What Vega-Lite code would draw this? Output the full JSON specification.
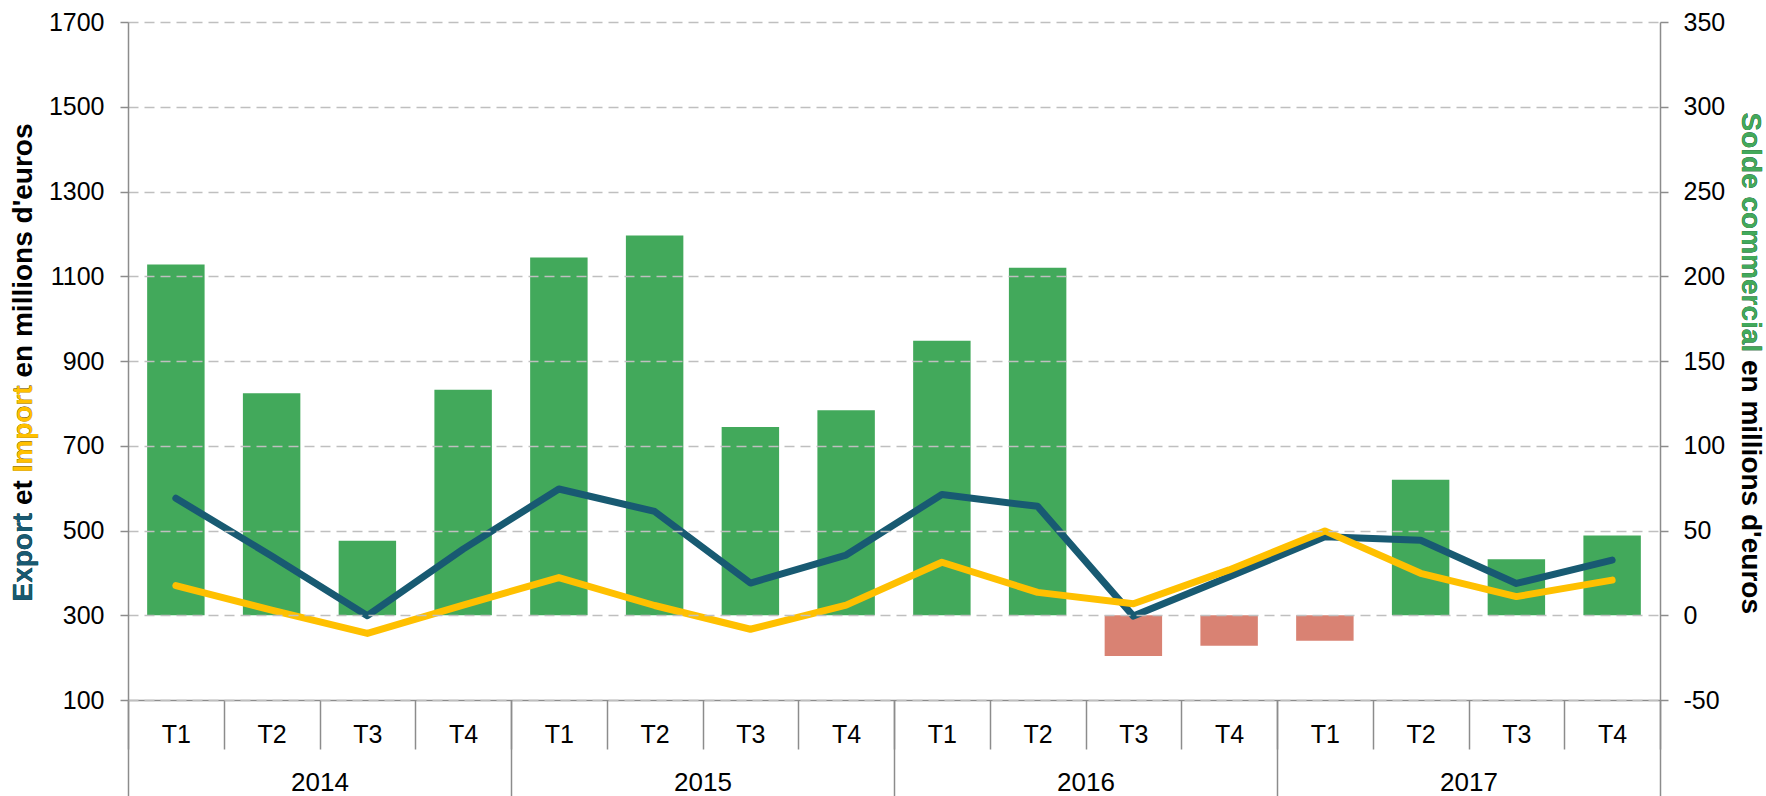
{
  "$schema": "https://vega.github.io/schema/vega-lite/v6.json",
  "width": 1532,
  "height": 678,
  "autosize": {"type": "none"},
  "padding": {"left": 128, "top": 22, "right": 106, "bottom": 96},
  "background": "white",
  "config": {
    "view": {"stroke": null},
    "font": "Liberation Sans",
    "axis": {"labelFont": "Liberation Sans", "titleFont": "Liberation Sans"}
  },
  "data": {
    "values": [
      {"cle": "2014-T1", "annee": "2014", "export": 576, "import": 370, "solde": 207},
      {"cle": "2014-T2", "annee": "2014", "export": 440, "import": 312, "solde": 131},
      {"cle": "2014-T3", "annee": "2014", "export": 299, "import": 257, "solde": 44},
      {"cle": "2014-T4", "annee": "2014", "export": 456, "import": 324, "solde": 133},
      {"cle": "2015-T1", "annee": "2015", "export": 598, "import": 389, "solde": 211},
      {"cle": "2015-T2", "annee": "2015", "export": 545, "import": 323, "solde": 224},
      {"cle": "2015-T3", "annee": "2015", "export": 376, "import": 267, "solde": 111},
      {"cle": "2015-T4", "annee": "2015", "export": 442, "import": 324, "solde": 121},
      {"cle": "2016-T1", "annee": "2016", "export": 585, "import": 425, "solde": 162},
      {"cle": "2016-T2", "annee": "2016", "export": 557, "import": 354, "solde": 205},
      {"cle": "2016-T3", "annee": "2016", "export": 298, "import": 327, "solde": -24},
      {"cle": "2016-T4", "annee": "2016", "export": 391, "import": 407, "solde": -18},
      {"cle": "2017-T1", "annee": "2017", "export": 485, "import": 499, "solde": -15},
      {"cle": "2017-T2", "annee": "2017", "export": 477, "import": 399, "solde": 80},
      {"cle": "2017-T3", "annee": "2017", "export": 375, "import": 344, "solde": 33},
      {"cle": "2017-T4", "annee": "2017", "export": 430, "import": 383, "solde": 47}
    ]
  },
  "resolve": {"scale": {"x": "independent", "y": "independent"}},
  "layer": [
    {
      "mark": {"type": "point", "opacity": 0},
      "encoding": {
        "x": {
          "field": "annee", "type": "nominal", "sort": null,
          "scale": {"type": "band", "domain": ["2014", "2015", "2016", "2017"], "paddingInner": 0, "paddingOuter": 0},
          "axis": {
            "orient": "bottom", "domain": false, "grid": false, "tickBand": "extent", "tickSize": 96,
            "tickColor": "#8C8C8C", "tickWidth": 1.5, "labelFontSize": 26, "labelColor": "#000000",
            "labelBaseline": "middle", "labelPadding": -14, "labelAngle": 0, "title": null
          }
        },
        "y": {
          "field": "export", "type": "quantitative",
          "scale": {"domain": [100, 1700], "nice": false, "zero": false},
          "axis": {
            "orient": "left", "labels": false, "ticks": false, "domain": false, "grid": false,
            "title": "Export", "titleColor": "#185A72", "titleFontSize": 28, "titleFontWeight": "bold",
            "titleAngle": 270, "titleAlign": "left", "titleBaseline": "alphabetic", "titleX": -97, "titleY": 579, "zindex": 3
          }
        }
      }
    },
    {
      "transform": [{"filter": "datum.solde >= 0"}],
      "mark": {"type": "bar", "color": "#42A95B", "width": {"band": 0.6}},
      "encoding": {
        "x": {
          "field": "cle", "type": "nominal", "sort": null,
          "scale": {"type": "band", "domain": ["2014-T1","2014-T2","2014-T3","2014-T4","2015-T1","2015-T2","2015-T3","2015-T4","2016-T1","2016-T2","2016-T3","2016-T4","2017-T1","2017-T2","2017-T3","2017-T4"], "paddingInner": 0, "paddingOuter": 0},
          "axis": {
            "orient": "bottom", "domain": true, "domainColor": "#8C8C8C", "domainWidth": 1.5, "grid": false,
            "tickBand": "extent", "tickSize": 49, "tickColor": "#8C8C8C", "tickWidth": 1.5,
            "labelExpr": "slice(datum.label, 5)", "labelFontSize": 25, "labelColor": "#000000",
            "labelBaseline": "middle", "labelPadding": -15, "labelAngle": 0, "title": null
          }
        },
        "y": {
          "field": "solde", "type": "quantitative",
          "scale": {"domain": [-50, 350], "nice": false, "zero": false},
          "axis": {
            "orient": "right", "values": [-50, 0, 50, 100, 150, 200, 250, 300, 350],
            "labelExpr": "'' + datum.value",
            "labelFontSize": 25, "labelColor": "#000000", "labelPadding": 15,
            "tickSize": 8, "tickColor": "#8C8C8C", "tickWidth": 1.5,
            "domainColor": "#8C8C8C", "domainWidth": 1.5, "grid": false,
            "title": "Solde commercial", "titleColor": "#42A95B", "titleFontSize": 28, "titleFontWeight": "bold",
            "titleAngle": 90, "titleAlign": "left", "titleBaseline": "alphabetic", "titleX": 81, "titleY": 90, "zindex": 2
          }
        }
      }
    },
    {
      "transform": [{"filter": "datum.solde < 0"}],
      "mark": {"type": "bar", "color": "#D98273", "width": {"band": 0.6}},
      "encoding": {
        "x": {
          "field": "cle", "type": "nominal", "sort": null,
          "scale": {"type": "band", "domain": ["2014-T1","2014-T2","2014-T3","2014-T4","2015-T1","2015-T2","2015-T3","2015-T4","2016-T1","2016-T2","2016-T3","2016-T4","2017-T1","2017-T2","2017-T3","2017-T4"], "paddingInner": 0, "paddingOuter": 0},
          "axis": null
        },
        "y": {
          "field": "solde", "type": "quantitative",
          "scale": {"domain": [-50, 350], "nice": false, "zero": false},
          "axis": {
            "orient": "right", "labels": false, "ticks": false, "domain": false, "grid": false,
            "title": "Solde commercial en millions d'euros", "titleColor": "#000000", "titleFontSize": 28, "titleFontWeight": "bold",
            "titleAngle": 90, "titleAlign": "left", "titleBaseline": "alphabetic", "titleX": 81, "titleY": 90, "zindex": 1
          }
        }
      }
    },
    {
      "mark": {"type": "line", "color": "#185A72", "strokeWidth": 7, "strokeCap": "round", "strokeJoin": "round"},
      "encoding": {
        "x": {
          "field": "cle", "type": "nominal", "sort": null,
          "scale": {"type": "band", "domain": ["2014-T1","2014-T2","2014-T3","2014-T4","2015-T1","2015-T2","2015-T3","2015-T4","2016-T1","2016-T2","2016-T3","2016-T4","2017-T1","2017-T2","2017-T3","2017-T4"], "paddingInner": 0, "paddingOuter": 0},
          "axis": null
        },
        "y": {
          "field": "export", "type": "quantitative",
          "scale": {"domain": [100, 1700], "nice": false, "zero": false},
          "axis": {
            "orient": "left", "values": [100, 300, 500, 700, 900, 1100, 1300, 1500, 1700],
            "format": "d",
            "labelFontSize": 25, "labelColor": "#000000", "labelPadding": 16,
            "tickSize": 8, "tickColor": "#8C8C8C", "tickWidth": 1.5,
            "domainColor": "#8C8C8C", "domainWidth": 1.5,
            "grid": true, "gridColor": "#BFBFBF", "gridWidth": 1.5, "gridDash": [10, 6],
            "title": "Export et Import en millions d'euros", "titleColor": "#000000", "titleFontSize": 28, "titleFontWeight": "bold",
            "titleAngle": 270, "titleAlign": "left", "titleBaseline": "alphabetic", "titleX": -97, "titleY": 579, "zindex": 1
          }
        }
      }
    },
    {
      "mark": {"type": "line", "color": "#FFC000", "strokeWidth": 7, "strokeCap": "round", "strokeJoin": "round"},
      "encoding": {
        "x": {
          "field": "cle", "type": "nominal", "sort": null,
          "scale": {"type": "band", "domain": ["2014-T1","2014-T2","2014-T3","2014-T4","2015-T1","2015-T2","2015-T3","2015-T4","2016-T1","2016-T2","2016-T3","2016-T4","2017-T1","2017-T2","2017-T3","2017-T4"], "paddingInner": 0, "paddingOuter": 0},
          "axis": null
        },
        "y": {
          "field": "import", "type": "quantitative",
          "scale": {"domain": [100, 1700], "nice": false, "zero": false},
          "axis": {
            "orient": "left", "labels": false, "ticks": false, "domain": false, "grid": false,
            "title": "Import", "titleColor": "#FFC000", "titleFontSize": 28, "titleFontWeight": "bold",
            "titleAngle": 270, "titleAlign": "left", "titleBaseline": "alphabetic", "titleX": -97, "titleY": 450, "zindex": 2
          }
        }
      }
    }
  ]
}
